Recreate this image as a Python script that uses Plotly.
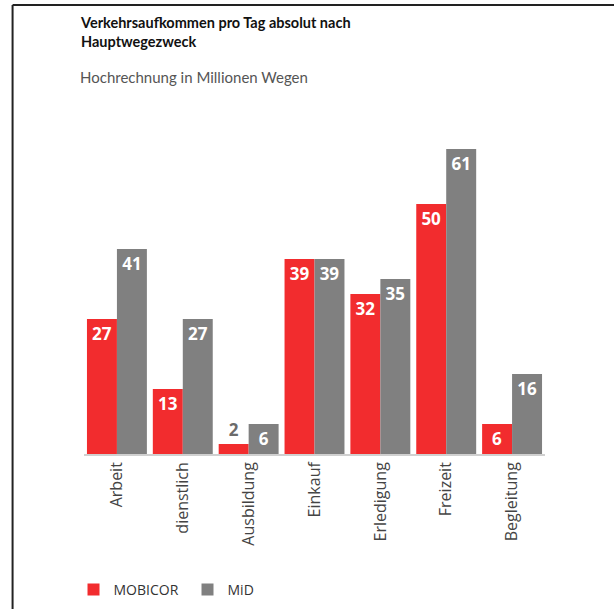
import plotly.graph_objects as go

categories = ["Arbeit", "dienstlich", "Ausbildung", "Einkauf", "Erledigung", "Freizeit", "Begleitung"]
mobicor = [27, 13, 2, 39, 32, 50, 6]
mid = [41, 27, 6, 39, 35, 61, 16]
series_names = ["MOBICOR", "MiD"]

title_line1 = "Verkehrsaufkommen pro Tag absolut nach"
title_line2 = "Hauptwegezweck"
subtitle = "Hochrechnung in Millionen Wegen"

W, H = 614, 609
ML, MR, MT, MB = 83.5, 69, 129, 155
PW, PH = W - ML - MR, H - MT - MB

def px(x):
    return (x - ML) / PW

def py(y):
    return (H - MB - y) / PH

RED = "#F22C2E"
GRAY = "#808080"
FONT = "Lato, Open Sans, sans-serif"

def positions(vals):
    return ["outside" if v < 4 else "inside" for v in vals]

fig = go.Figure()
for name, vals, col in [(series_names[0], mobicor, RED), (series_names[1], mid, GRAY)]:
    fig.add_trace(go.Bar(
        x=categories, y=vals, name=name,
        marker=dict(color=col, line=dict(width=0)),
        text=[str(v) for v in vals],
        textposition=positions(vals),
        insidetextanchor="end",
        textangle=0,
        insidetextfont=dict(family="Open Sans", size=17, color="white", weight="bold"),
        outsidetextfont=dict(family="Open Sans", size=17, color="#6b6b6b", weight="bold"),
        cliponaxis=False,
        hoverinfo="skip",
    ))

fig.update_layout(
    width=W, height=H,
    margin=dict(l=ML, r=MR, t=MT, b=MB, pad=0, autoexpand=False),
    paper_bgcolor="white", plot_bgcolor="white",
    barmode="group", bargap=0.09, bargroupgap=0,
    font=dict(family=FONT, color="#444"),
    showlegend=True,
    legend=dict(
        orientation="h", x=px(73), xanchor="left", y=py(590), yanchor="middle",
        font=dict(family="Open Sans", size=14, color="#333"),
        traceorder="normal", entrywidth=69, entrywidthmode="pixels",
        itemclick=False, itemdoubleclick=False,
    ),
)
fig.update_xaxes(
    showgrid=False, showline=True, linecolor="#d0d0d0", linewidth=1.5,
    tickangle=-90, tickfont=dict(family="Open Sans", size=16, color="#444"),
    ticks="", fixedrange=True, automargin=False,
)
fig.update_yaxes(
    range=[0, 65], showgrid=False, zeroline=False, showticklabels=False,
    showline=False, fixedrange=True, automargin=False,
)

# frame lines (left and top)
fig.add_shape(type="line", xref="paper", yref="paper", x0=px(12), x1=px(12), y0=py(5), y1=py(H + 5),
              line=dict(color="#222", width=2))
fig.add_shape(type="line", xref="paper", yref="paper", x0=px(12), x1=px(W + 5), y0=py(5), y1=py(5),
              line=dict(color="#222", width=2))

fig.add_annotation(xref="paper", yref="paper", x=px(77), y=py(12), xanchor="left", yanchor="top",
                   text="<b>" + title_line1 + "<br>" + title_line2 + "</b>", showarrow=False, align="left",
                   font=dict(family=FONT, size=14.5, color="#111"))
fig.add_annotation(xref="paper", yref="paper", x=px(77), y=py(66), xanchor="left", yanchor="top",
                   text=subtitle, showarrow=False, align="left",
                   font=dict(family=FONT, size=15, color="#555"))

fig.write_html("out.html")
